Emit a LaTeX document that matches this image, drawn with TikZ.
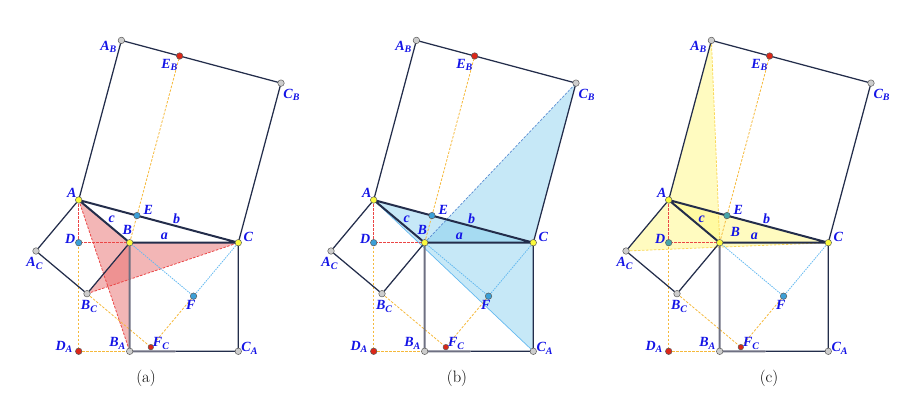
\documentclass[tikz,border=0pt]{standalone}
\usepackage{fontspec}
\newfontfamily\lblfont{Liberation Serif}
\usetikzlibrary{calc}

\definecolor{navy}{RGB}{35,45,75}
\definecolor{lblblue}{RGB}{20,20,230}
\definecolor{ornge}{RGB}{245,185,60}
\definecolor{rdash}{RGB}{235,70,70}
\definecolor{ldash}{RGB}{100,185,240}
\definecolor{ptyellow}{RGB}{250,250,60}
\definecolor{ptgray}{RGB}{205,205,205}
\definecolor{ptred}{RGB}{220,40,25}
\definecolor{ptblue}{RGB}{60,160,215}
\definecolor{ptteal}{RGB}{70,165,170}
\definecolor{grayside}{RGB}{110,112,130}
\definecolor{redfill}{RGB}{232,110,110}
\definecolor{bluefill}{RGB}{120,200,235}
\definecolor{bluedash}{RGB}{90,140,210}
\definecolor{yelfill}{RGB}{255,248,130}
\definecolor{yeldash}{RGB}{250,215,90}

\newcommand{\lsb}[2]{#1\raisebox{-0.4ex}{\fontsize{10}{10}\selectfont #2}}

\tikzset{
 tri/.style={draw=navy, line width=2pt, line join=round},
 sq/.style={draw=navy, line width=1.25pt, line join=round},
 grayedge/.style={draw=grayside, line width=2pt},
 orng/.style={draw=ornge, dash pattern=on 2.5pt off 1.5pt, line width=0.8pt},
 reddash/.style={draw=rdash, dash pattern=on 2.5pt off 1.5pt, line width=0.8pt},
 bluedot/.style={draw=ldash, dash pattern=on 1.5pt off 1pt, line width=0.8pt},
 pt/.style={circle, draw=black!65, line width=0.5pt, inner sep=0pt, minimum size=6.5pt},
 lbl/.style={text=lblblue, font=\lblfont\bfseries\itshape\fontsize{14}{16}\selectfont, inner sep=0pt},
 captext/.style={font=\fontsize{16.5}{18}\selectfont, inner sep=0pt},
}

% #1 = x shift
\newcommand{\pythcoords}[1]{
 \coordinate (A) at (#1+78.7,208);
 \coordinate (B) at (#1+129.7,165.3);
 \coordinate (C) at (#1+238.3,165.3);
 \coordinate (Ac) at ($(A)!1!-90:(B)$);
 \coordinate (Bc) at ($(B)!1!90:(A)$);
 \coordinate (Ab) at ($(A)!1!90:(C)$);
 \coordinate (Cb) at ($(C)!1!-90:(A)$);
 \coordinate (Ba) at ($(B)!1!-90:(C)$);
 \coordinate (Ca) at ($(C)!1!90:(B)$);
 \coordinate (D) at ($(B)!(A)!(C)$);
 \coordinate (Da) at ($(Ba)!(A)!(Ca)$);
 \coordinate (E) at ($(A)!(B)!(C)$);
 \coordinate (Eb) at ($(Ab)!(B)!(Cb)$);
 \coordinate (F) at ($(A)!(C)!(B)$);
 \coordinate (Fc) at ($(Ac)!(C)!(Bc)$);
 \coordinate (M) at ($(Ba)!0.42!(Ca)$);
}

% #1 = x shift, #2 = panel suffix, #3 = colour of D and E
\newcommand{\pythbase}[3]{
 \draw[reddash] (A) -- (D) -- (B);
 \draw[orng] (D) -- (Da) -- (Ba);
 \draw[orng] (B) -- (Eb);
 \draw[orng] (Bc) -- (Fc) -- (F);
 \draw[bluedot] (B) -- (F) -- (C);
 \draw[sq] (A) -- (Ab) -- (Cb) -- (C);
 \draw[sq] (A) -- (Ac) -- (Bc) -- (B);
 \draw[sq] (C) -- (Ca) -- (M);
 \draw[grayedge] (B) -- (Ba) -- (M);
 \draw[tri] (A) -- (B) -- (C) -- cycle;
 \node[pt, fill=ptyellow] (pA#2) at (A) {};
 \node[pt, fill=ptyellow] (pB#2) at (B) {};
 \node[pt, fill=ptyellow] (pC#2) at (C) {};
 \node[pt, fill=ptgray] (pAb#2) at (Ab) {};
 \node[pt, fill=ptgray] (pCb#2) at (Cb) {};
 \node[pt, fill=ptgray] (pAc#2) at (Ac) {};
 \node[pt, fill=ptgray] (pBc#2) at (Bc) {};
 \node[pt, fill=ptgray] (pBa#2) at (Ba) {};
 \node[pt, fill=ptgray] (pCa#2) at (Ca) {};
 \node[pt, fill=ptred] (pEb#2) at (Eb) {};
 \node[pt, fill=ptred] (pDa#2) at (Da) {};
 \node[pt, fill=ptred, minimum size=5.5pt] (pFc#2) at (Fc) {};
 \node[pt, fill=#3] (pD#2) at (D) {};
 \node[pt, fill=#3] (pE#2) at (E) {};
 \node[pt, fill=ptblue] (pF#2) at (F) {};
 \node[lbl] (lAb#2) at (#1+108.3,361.3) {\lsb{A}{B}};
 \node[lbl] (lEb#2) at (#1+169.3,343) {\lsb{E}{B}};
 \node[lbl] (lCb#2) at (#1+291.5,313) {\lsb{C}{B}};
 \node[lbl] (lA#2) at (#1+71.7,215.3) {A};
 \node[lbl] (lE#2) at (#1+148.3,198) {E};
 \node[lbl] (lb#2) at (#1+176.7,189.7) {b};
 \node[lbl] (lc#2) at (#1+111.7,188.7) {c};
 \node[lbl] (la#2) at (#1+164.3,171.3) {a};
 \node[lbl] (lC#2) at (#1+248.3,171.3) {C};
 \node[lbl] (lD#2) at (#1+70.2,169) {D};
 \node[lbl] (lAc#2) at (#1+34.5,144.7) {\lsb{A}{C}};
 \node[lbl] (lBc#2) at (#1+89,101.3) {\lsb{B}{C}};
 \node[lbl] (lF#2) at (#1+190.7,103) {F};
 \node[lbl] (lDa#2) at (#1+64,61.3) {\lsb{D}{A}};
 \node[lbl] (lBa#2) at (#1+117.3,64.7) {\lsb{B}{A}};
 \node[lbl] (lFc#2) at (#1+161,64.7) {\lsb{F}{C}};
 \node[lbl] (lCa#2) at (#1+249.5,59.7) {\lsb{C}{A}};
}

\begin{document}
\begin{tikzpicture}[x=1pt,y=1pt]
\useasboundingbox (0,0) rectangle (921,408);

% ---------- panel (a)
\pythcoords{0}
\fill[redfill, fill opacity=0.5] (A) -- (B) -- (Ba) -- cycle;
\fill[redfill, fill opacity=0.5] (Bc) -- (B) -- (C) -- cycle;
\draw[reddash] (A) -- (Ba);
\draw[reddash] (Bc) -- (C);
\pythbase{0}{a}{ptblue}
\node[lbl] (lBpa) at (127.3,178) {B};
\node[captext] (capa) at (146,30) {(a)};

% ---------- panel (b)
\pythcoords{295}
\fill[bluefill, fill opacity=0.42] (A) -- (C) -- (Ca) -- cycle;
\fill[bluefill, fill opacity=0.42] (B) -- (C) -- (Cb) -- cycle;
\draw[draw=ldash, line width=0.7pt] (A) -- (Ca);
\draw[draw=bluedash, dash pattern=on 2.5pt off 1.5pt, line width=0.7pt] (B) -- (Cb);
\pythbase{295}{b}{ptblue}
\node[lbl] (lBpb) at (295+127.3,178) {B};
\node[captext] (capb) at (457,30) {(b)};

% ---------- panel (c)
\pythcoords{590}
\fill[yelfill, fill opacity=0.5] (A) -- (Ac) -- (C) -- cycle;
\fill[yelfill, fill opacity=0.5] (A) -- (B) -- (Ab) -- cycle;
\draw[draw=yeldash, dash pattern=on 2.5pt off 1.5pt, line width=0.8pt] (Ab) -- (B);
\draw[draw=yeldash, dash pattern=on 2.5pt off 1.5pt, line width=0.8pt] (Ac) -- (C);
\pythbase{590}{c}{ptteal}
\node[lbl] (lBpc) at (590+145.3,176.3) {B};
\node[captext] (capc) at (769,30) {(c)};
\end{tikzpicture}
\end{document}
